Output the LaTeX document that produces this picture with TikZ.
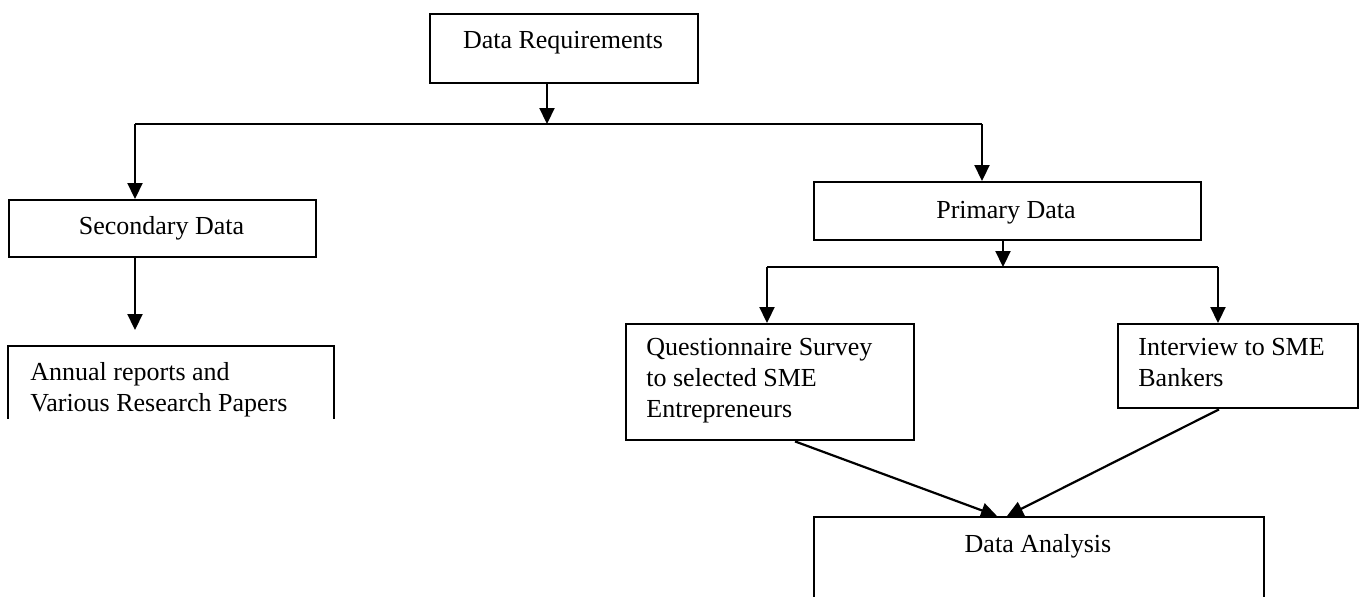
\documentclass[tikz,border=0pt]{standalone}
\usepackage{fontspec}
\setmainfont{Liberation Serif}
\usetikzlibrary{arrows.meta}
\tikzset{
  box/.style={draw, line width=1.2pt, inner sep=0pt, anchor=north west},
  txt/.style={inner sep=0pt, font=\fontsize{13}{15.5}\selectfont},
  conn/.style={line width=1.1pt},
  arr/.style={line width=1.1pt, -{Triangle[width=7.5pt,length=8pt]}},
}
\begin{document}
\begin{tikzpicture}[x=0.5pt,y=-0.5pt]
\useasboundingbox (0,0) rectangle (1362,596);
\clip (0,0) rectangle (1362,596);
% boxes
\node[box, minimum width=134pt, minimum height=34.5pt] (dreq) at (429,13) {};
\node[txt, anchor=base] (dreqT) at (563,48) {Data Requirements};
\node[box, minimum width=153.5pt, minimum height=28.5pt] (sec) at (8,199) {};
\node[txt, anchor=base] (secT) at (161.5,234) {Secondary Data};
\node[inner sep=0pt, anchor=north west, minimum width=162.5pt, minimum height=36pt] (ann) at (8,346) {};
\draw[line width=1.2pt] (ann.south west) -- (ann.north west) -- (ann.north east) -- (ann.south east);
\node[txt, anchor=north west, align=left] (annT) at (30,362) {Annual reports and\\Various Research Papers};
\node[box, minimum width=193.5pt, minimum height=29pt] (prim) at (813,181) {};
\node[txt, anchor=base] (primT) at (1006,218) {Primary Data};
\node[box, minimum width=144pt, minimum height=58pt] (quest) at (625,323) {};
\node[txt, anchor=north west, align=left] (questT) at (646,338) {Questionnaire Survey\\to selected SME\\Entrepreneurs};
\node[box, minimum width=120pt, minimum height=42pt] (intv) at (1117,323) {};
\node[txt, anchor=north west, align=left] (intvT) at (1138,338) {Interview to SME\\Bankers};
\node[box, minimum width=225pt, minimum height=62pt] (da) at (813,516) {};
\node[txt, anchor=base] (daT) at (1038,552) {Data Analysis};
% connectors
\coordinate (j1) at (547,124);
\coordinate (jL) at (135,124);
\coordinate (jR) at (982,124);
\draw[arr] (dreq.south -| j1) -- (j1);
\draw[conn] (jL) -- (jR);
\draw[arr] (jL) -- (jL |- sec.north);
\draw[arr] (jR) -- (jR |- prim.north);
\coordinate (aTip) at (135,330);
\draw[arr] (aTip |- sec.south) -- (aTip);
\coordinate (j2) at (1003,267);
\coordinate (j2L) at (767,267);
\coordinate (j2R) at (1218,267);
\draw[arr] (prim.south -| j2) -- (j2);
\draw[conn] (j2L) -- (j2R);
\draw[arr] (j2L) -- (j2L |- quest.north);
\draw[arr] (j2R) -- (j2R |- intv.north);
\coordinate (qx) at (795,0);
\coordinate (ix) at (1219,0);
\coordinate (daL) at (997,516);
\coordinate (daR) at (1007,516);
\draw[arr] (quest.south -| qx) -- (daL);
\draw[arr] (intv.south -| ix) -- (daR);
\end{tikzpicture}
\end{document}
